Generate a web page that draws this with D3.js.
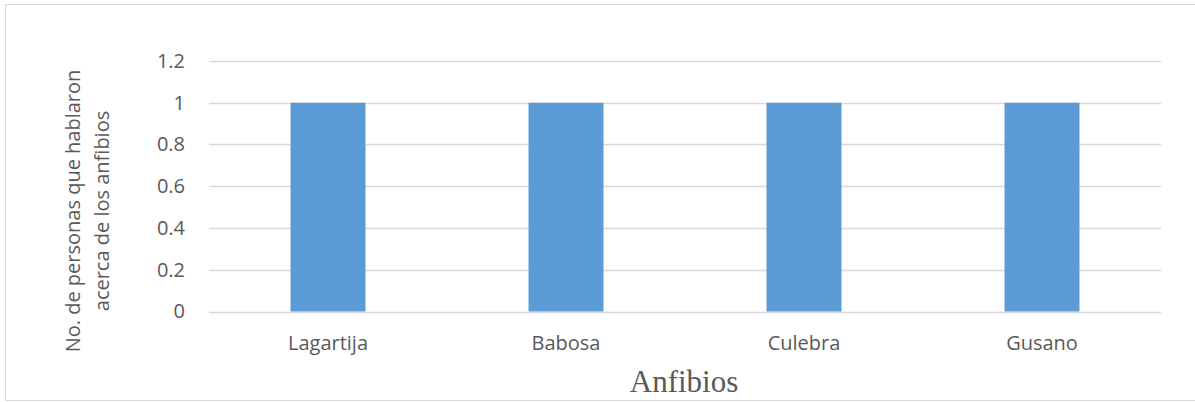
<!DOCTYPE html>
<html lang="es">
<head>
<meta charset="utf-8">
<style type="text/css">
    body { margin: 0; background: #fff; }
    .tick_text { font-family: "Open Sans", sans-serif; font-size: 20px; fill: #595959; }
    .axis_title { font-family: "Open Sans", sans-serif; font-size: 20px; fill: #595959; }
    .x_title { font-family: "Liberation Serif", "Times New Roman", serif; font-size: 31px; fill: #595959; }
</style>
</head>
<body>
<div id="graph"></div>
<script src="https://cdn.jsdelivr.net/npm/d3@7"></script>
<script type="text/javascript">
    var categories = ["Lagartija", "Babosa", "Culebra", "Gusano"];
    var values = [1, 1, 1, 1];
    var yTicks = [0, 0.2, 0.4, 0.6, 0.8, 1, 1.2];
    var yTitle = ["No. de personas que hablaron", "acerca de los anfibios"];
    var xTitle = "Anfibios";

    var W = 1195, H = 402;
    var margin = {top: 61, right: 34, bottom: 90, left: 209};
    var width = W - margin.left - margin.right,
        height = 311.5 - margin.top;

    var svg = d3.select("#graph").append("svg")
        .attr("width", W).attr("height", H);

    // chart frame
    svg.append("rect")
        .attr("x", 5.5).attr("y", 4.5)
        .attr("width", W + 10).attr("height", 396)
        .attr("fill", "none").attr("stroke", "#d9d9d9");

    var g = svg.append("g")
        .attr("transform", "translate(" + margin.left + "," + margin.top + ")");

    var x = d3.scaleBand().domain(categories).range([0, width]).padding(0);
    var y = d3.scaleLinear().domain([0, 1.2]).range([height, 0]);

    // gridlines
    g.selectAll(".grid")
        .data(yTicks)
        .enter()
        .append("line")
        .attr("x1", 0).attr("x2", width)
        .attr("y1", function(d) { return Math.round(y(d)) + 0.5; })
        .attr("y2", function(d) { return Math.round(y(d)) + 0.5; })
        .attr("stroke", "#d9d9d9").attr("stroke-width", 1.3);

    // y tick labels
    var yAxis = g.append("g")
        .attr("transform", "translate(-21,0)")
        .call(d3.axisLeft(y).tickValues(yTicks).tickSize(0).tickFormat(function(d) { return d3.format("")(+d.toFixed(1)); }));
    yAxis.select(".domain").remove();
    yAxis.selectAll("text").attr("class", "tick_text").attr("font-size", null).attr("font-family", null);

    // bars
    var barW = x.bandwidth() * 0.315;
    g.selectAll(".bar")
        .data(values)
        .enter()
        .append("rect")
        .attr("x", function(d, i) { return x(categories[i]) + (x.bandwidth() - barW) / 2; })
        .attr("y", function(d) { return y(d); })
        .attr("width", barW)
        .attr("height", function(d) { return y(0) - y(d); })
        .attr("fill", "#5b9bd5");

    // x category labels
    var xAxis = g.append("g")
        .attr("transform", "translate(0," + height + ")")
        .call(d3.axisBottom(x).tickSize(0).tickPadding(24));
    xAxis.select(".domain").remove();
    xAxis.selectAll("text").attr("class", "tick_text").attr("font-size", null).attr("font-family", null);

    // y axis title
    var yt = svg.append("text")
        .attr("class", "axis_title")
        .attr("transform", "translate(80,211) rotate(-90)")
        .attr("text-anchor", "middle");
    yt.selectAll("tspan")
        .data(yTitle)
        .enter()
        .append("tspan")
        .attr("x", 0)
        .attr("dy", function(d, i) { return i === 0 ? 0 : 29; })
        .text(function(d) { return d; });

    // x axis title
    svg.append("text")
        .attr("class", "x_title")
        .attr("x", margin.left + width / 2 - 1)
        .attr("y", 392)
        .attr("text-anchor", "middle")
        .text(xTitle);
</script>
</body>
</html>
